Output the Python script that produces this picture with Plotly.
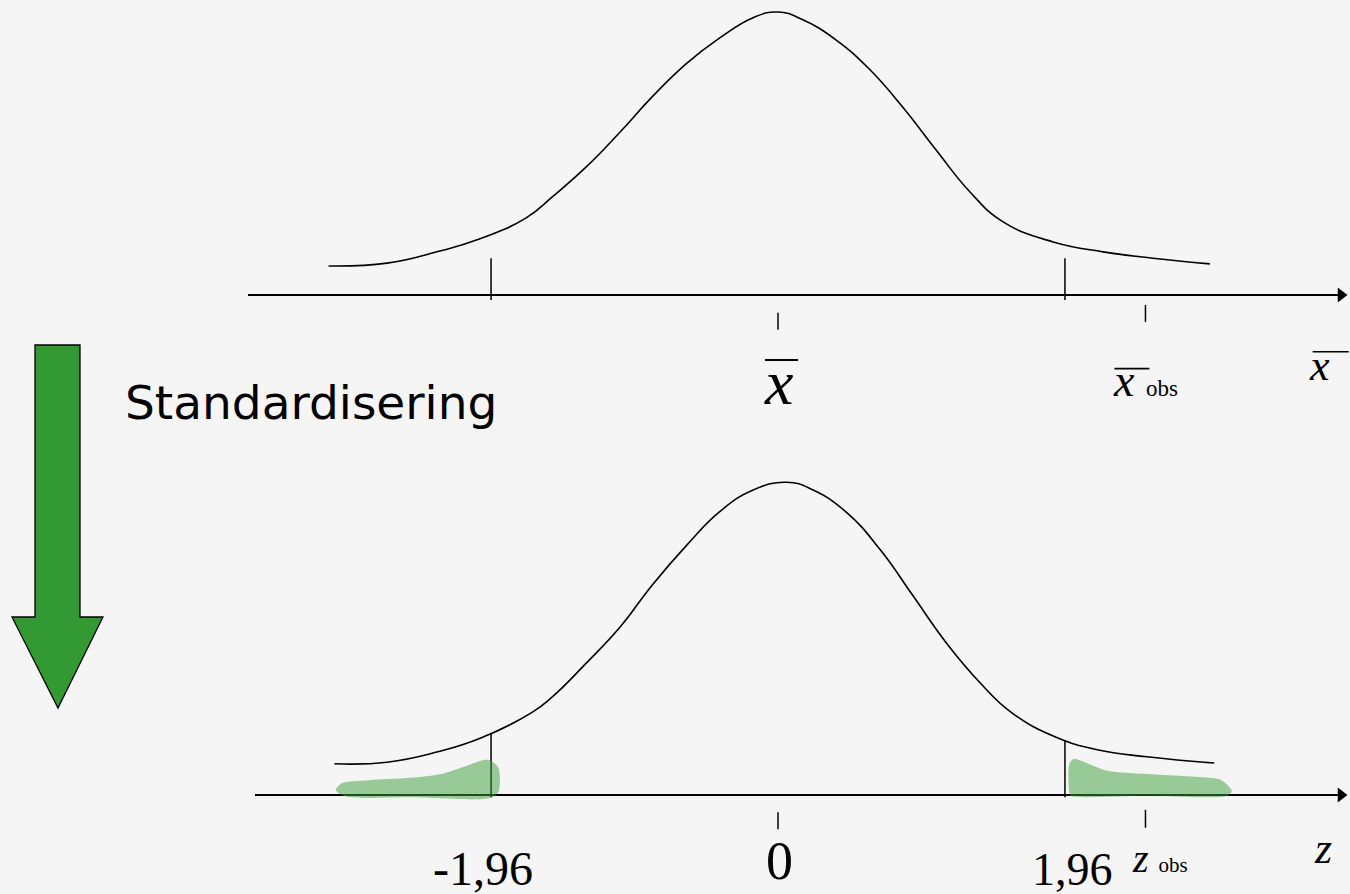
import numpy as np
import plotly.graph_objects as go

# ---- data (horizontal values in standard units, heights as density) ----
# sampling distribution of x-bar, traced along the x-bar scale
top_z = [-3.07, -2.67, -2.33, -2.04, -1.72, -1.54, -1.31, -1.08, -0.86, -0.62, -0.40, -0.17,
         0.00, 0.17, 0.40, 0.63, 0.85, 1.08, 1.31, 1.54, 1.88, 2.22, 2.56, 2.95]
top_density = [0.041, 0.045, 0.061, 0.079, 0.109, 0.139, 0.181, 0.230, 0.280, 0.328, 0.363, 0.392,
               0.400, 0.389, 0.360, 0.318, 0.266, 0.205, 0.146, 0.103, 0.075, 0.061, 0.052, 0.044]

# standard normal curve after standardisation
std_z = [-3.03, -2.67, -2.33, -2.03, -1.68, -1.54, -1.31, -1.08, -0.86, -0.62, -0.40, -0.17,
         0.06, 0.24, 0.47, 0.70, 0.92, 1.15, 1.38, 1.60, 1.90, 2.18, 2.52, 2.98]
std_density = [0.040, 0.042, 0.055, 0.073, 0.106, 0.126, 0.169, 0.215, 0.269, 0.321, 0.363, 0.391,
               0.401, 0.391, 0.362, 0.314, 0.256, 0.195, 0.144, 0.105, 0.074, 0.058, 0.049, 0.041]

critical_values = [-1.96, 1.96]
tick_values = [-1.96, 0.0, 1.96]
tick_labels = ["-1,96", "0", "1,96"]
z_obs = 2.51

# hand-shaded rejection regions (outline of each highlighted tail)
left_tail_z = [-3.02, -2.98, -2.80, -2.51, -2.30, -2.15, -1.98, -1.91, -1.91, -1.97, -2.50, -2.95, -3.02]
left_tail_h = [0.006, 0.015, 0.019, 0.022, 0.027, 0.036, 0.045, 0.035, 0.004, -0.004, -0.003, -0.002, 0.006]
right_tail_z = [1.99, 1.99, 2.02, 2.25, 2.60, 2.88, 3.03, 3.10, 3.07, 2.50, 2.00, 1.99]
right_tail_h = [0.003, 0.040, 0.046, 0.031, 0.026, 0.023, 0.019, 0.005, -0.001, -0.001, -0.001, 0.003]

# ---- canvas geometry ----
W, H = 1350, 894
PX_PER_UNIT = 146.4          # horizontal pixels per standard unit
CENTER_PX = 778              # where 0 sits across the canvas
SPLIT = 450                  # pixel row separating the two panels
TOP_BASE, TOP_SCALE = 295, 707.5
BOT_BASE, BOT_SCALE = 795, 780.0

BG = "#f5f5f5"
INK = "black"
SERIF = "Liberation Serif"

x_range = [-CENTER_PX / PX_PER_UNIT, (W - CENTER_PX) / PX_PER_UNIT]
top_range = [-(SPLIT - TOP_BASE) / TOP_SCALE, TOP_BASE / TOP_SCALE]
bot_range = [-(H - BOT_BASE) / BOT_SCALE, (BOT_BASE - SPLIT) / BOT_SCALE]
split_frac = 1 - SPLIT / H

axis_start_top = (248 - CENTER_PX) / PX_PER_UNIT
axis_start_bot = (255 - CENTER_PX) / PX_PER_UNIT
axis_end = (1341 - CENTER_PX) / PX_PER_UNIT

fig = go.Figure()

# horizontal axes with arrowheads
for ya, x0 in (("y", axis_start_top), ("y2", axis_start_bot)):
    fig.add_trace(go.Scatter(x=[x0, axis_end], y=[0, 0], yaxis=ya, mode="lines",
                             line=dict(color=INK, width=2.2), hoverinfo="skip"))
    fig.add_trace(go.Scatter(x=[axis_end], y=[0], yaxis=ya, mode="markers",
                             marker=dict(symbol="triangle-right", size=13, color=INK),
                             hoverinfo="skip"))

# curves
curve_line = dict(color=INK, width=1.6, shape="spline", smoothing=1.3)
fig.add_trace(go.Scatter(x=top_z, y=top_density, yaxis="y", mode="lines",
                         line=curve_line, hoverinfo="skip"))
fig.add_trace(go.Scatter(x=std_z, y=std_density, yaxis="y2", mode="lines",
                         line=curve_line, hoverinfo="skip"))

# critical value markers
for c in critical_values:
    fig.add_trace(go.Scatter(x=[c, c], y=[-0.007, 0.052], yaxis="y", mode="lines",
                             line=dict(color=INK, width=1.5), hoverinfo="skip"))
    top_h = float(np.interp(c, std_z, std_density))
    fig.add_trace(go.Scatter(x=[c, c], y=[-0.003, top_h], yaxis="y2", mode="lines",
                             line=dict(color=INK, width=1.5), hoverinfo="skip"))

# small ticks below the axes
fig.add_trace(go.Scatter(x=[0, 0], y=[-0.025, -0.049], yaxis="y", mode="lines",
                         line=dict(color=INK, width=1.5), hoverinfo="skip"))
fig.add_trace(go.Scatter(x=[z_obs, z_obs], y=[-0.014, -0.038], yaxis="y", mode="lines",
                         line=dict(color=INK, width=1.5), hoverinfo="skip"))
fig.add_trace(go.Scatter(x=[0, 0], y=[-0.022, -0.044], yaxis="y2", mode="lines",
                         line=dict(color=INK, width=1.5), hoverinfo="skip"))
fig.add_trace(go.Scatter(x=[z_obs, z_obs], y=[-0.019, -0.042], yaxis="y2", mode="lines",
                         line=dict(color=INK, width=1.5), hoverinfo="skip"))

# shaded tails
for tz, th in ((left_tail_z, left_tail_h), (right_tail_z, right_tail_h)):
    fig.add_trace(go.Scatter(x=tz, y=th, yaxis="y2", mode="lines", fill="toself",
                             fillcolor="rgba(60,160,60,0.5)",
                             line=dict(width=0, shape="spline", smoothing=0.8),
                             hoverinfo="skip"))

annotations = []
shapes = []


def label(x, y, text, size, yref="y", xshift=0, yanchor="middle"):
    annotations.append(dict(x=x, y=y, xref="x", yref=yref, text=text, showarrow=False,
                            xanchor="center", yanchor=yanchor, xshift=xshift,
                            font=dict(family=SERIF, size=size, color=INK)))


def overbar(x, y, dx0, dx1, dy, yref="y", width=1.6):
    shapes.append(dict(type="line", xref="x", yref=yref, xsizemode="pixel", ysizemode="pixel",
                       xanchor=x, yanchor=y, x0=dx0, x1=dx1, y0=dy, y1=dy,
                       line=dict(color=INK, width=width)))


NB = "\u00a0"

# top panel labels
label(0, -0.123, "<i>x</i>", 64)
overbar(0, -0.123, -13, 20, 22, width=2)
label(z_obs, -0.121, f"<i>x</i>{NB}<span style='font-size:23px'>obs</span>", 46)
overbar(z_obs, -0.121, -31, 4, 12)
label(3.70, -0.100, "<i>x</i>", 44)
overbar(3.70, -0.100, -7, 29, 14)

# bottom panel labels
shifts = {"-1,96": -8, "0": 1, "1,96": 8}
sizes = {"-1,96": 48, "0": 54, "1,96": 46}
ys = {"-1,96": -0.094, "0": -0.125, "1,96": -0.0955}
anchors = {"-1,96": "middle", "0": "bottom", "1,96": "middle"}
for v, t in zip(tick_values, tick_labels):
    label(v, ys[t], t, sizes[t], yref="y2", xshift=shifts[t], yanchor=anchors[t])
label(z_obs, -0.082, f"<i>z</i>{NB}<span style='font-size:21px'>obs</span>", 40,
      yref="y2", xshift=15)
label(3.72, -0.068, "<i>z</i>", 44, yref="y2")

# "Standardisering" caption
annotations.append(dict(x=123 / W, y=1 - 402 / H, xref="paper", yref="paper",
                        text="Standardisering", showarrow=False, xanchor="left",
                        yanchor="middle", font=dict(family="DejaVu Sans", size=47, color=INK)))

# big downward arrow
arrow_px = [(35, 345), (80, 345), (80, 617), (103, 617), (58, 708), (12, 617), (35, 617)]
path = "M " + " L ".join(f"{px / W:.5f},{1 - py / H:.5f}" for px, py in arrow_px) + " Z"
shapes.append(dict(type="path", xref="paper", yref="paper", path=path,
                   fillcolor="#339933", line=dict(color=INK, width=1.3)))

fig.update_layout(
    width=W, height=H,
    margin=dict(l=0, r=0, t=0, b=0),
    paper_bgcolor=BG, plot_bgcolor=BG,
    showlegend=False,
    xaxis=dict(range=x_range, domain=[0, 1], visible=False, fixedrange=True),
    yaxis=dict(range=top_range, domain=[split_frac, 1], visible=False, fixedrange=True),
    yaxis2=dict(range=bot_range, domain=[0, split_frac], visible=False, fixedrange=True,
                anchor="x"),
    annotations=annotations,
    shapes=shapes,
)

fig.write_html("out.html", config={"displayModeBar": False})
